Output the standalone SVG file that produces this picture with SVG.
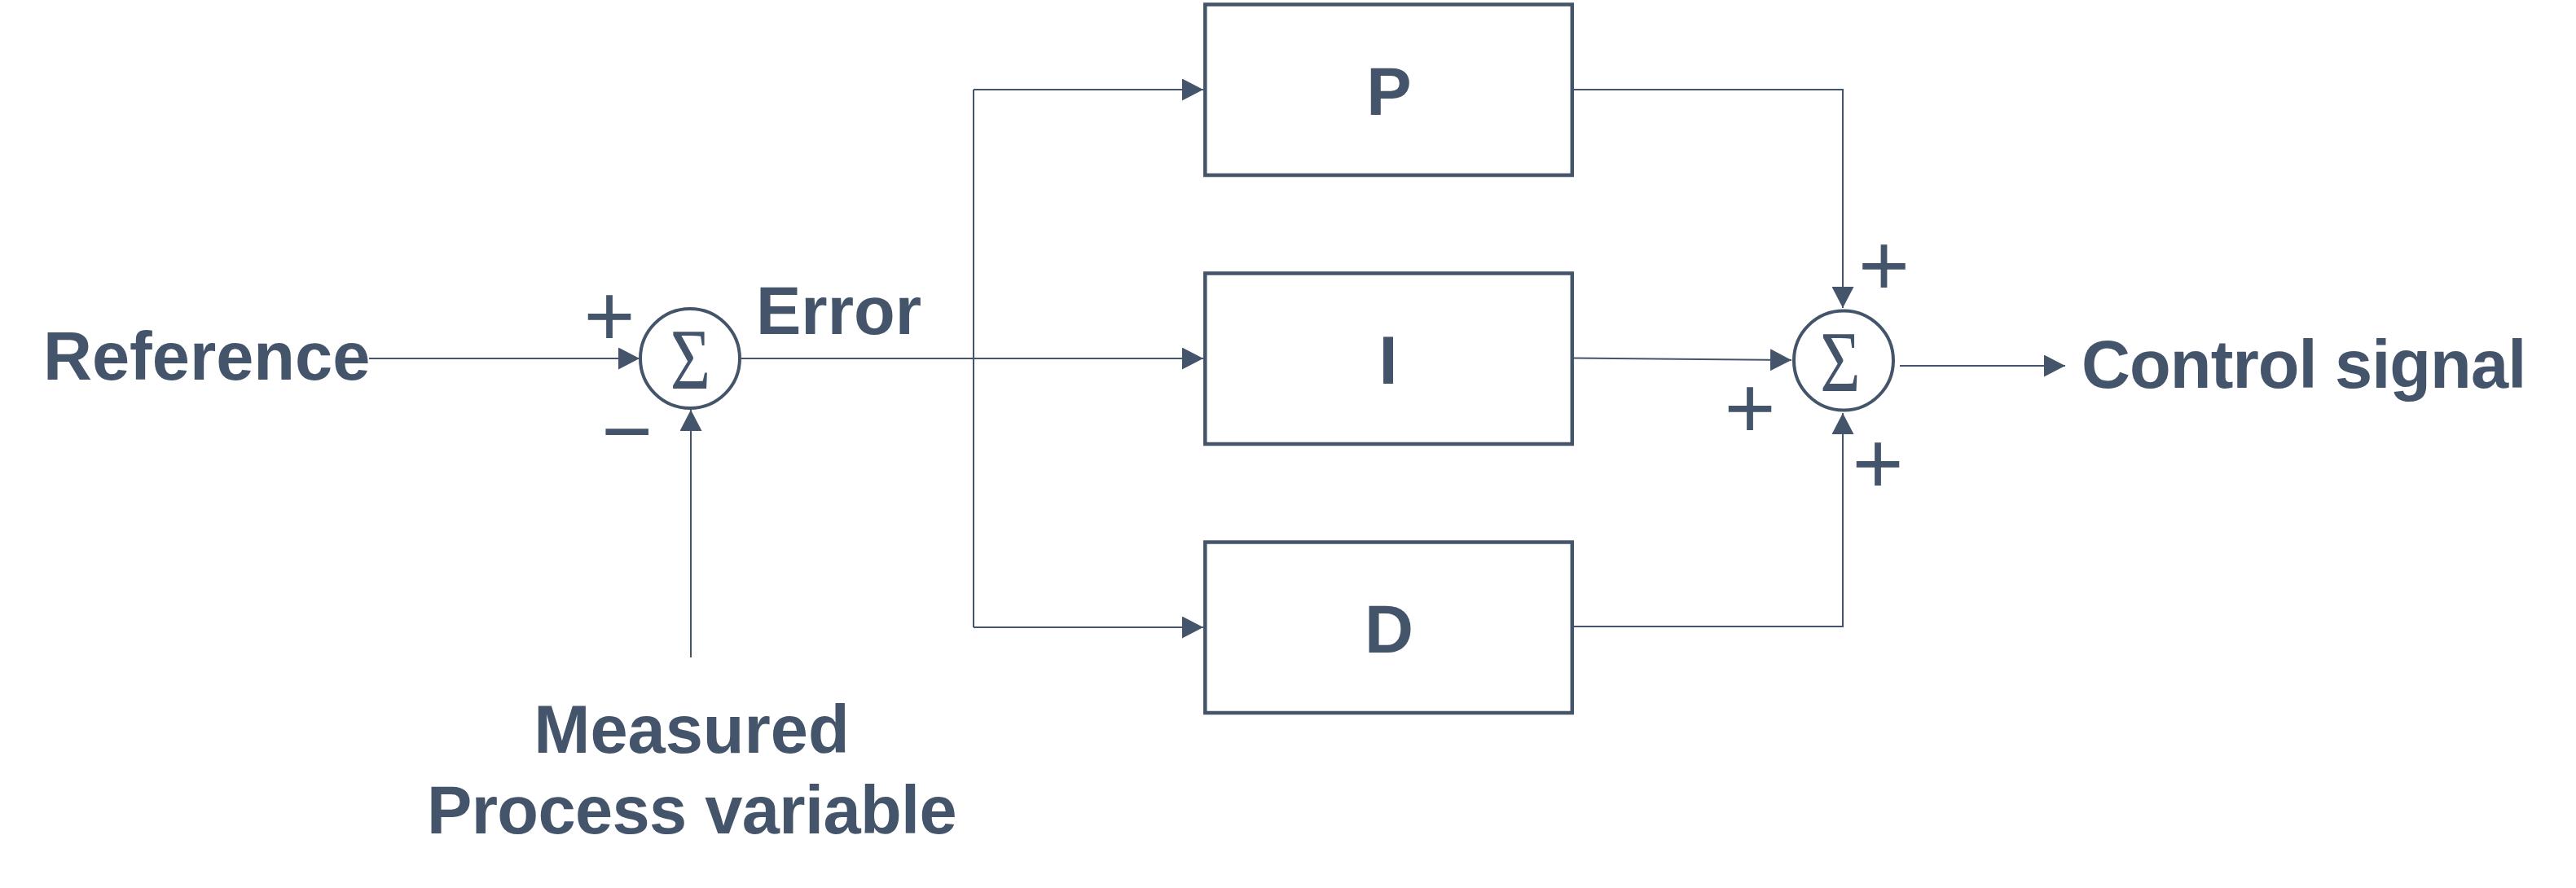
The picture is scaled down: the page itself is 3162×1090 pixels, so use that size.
<svg xmlns="http://www.w3.org/2000/svg" width="3162" height="1090" viewBox="0 0 3162 1090">
  <style>
    .lbl { font-family: "Liberation Sans", Arial, Helvetica, sans-serif; font-weight: bold; font-size: 83px; fill: #44546a; }
    .sign { font-family: "Liberation Sans", Arial, sans-serif; font-weight: normal; font-size: 108px; fill: #44546a; text-anchor: middle; }
    .sig { font-family: "Liberation Serif", "Times New Roman", serif; font-size: 106px; fill: #44546a; text-anchor: middle; }
    .box { fill: #ffffff; stroke: #44546a; stroke-width: 4.5; }
    .sum { fill: #ffffff; stroke: #44546a; stroke-width: 4; }
    .wire { fill: none; stroke: #44546a; stroke-width: 2; marker-end: url(#arrow); }
    .plain { fill: none; stroke: #44546a; stroke-width: 2; }
  </style>
  <defs>
    <marker id="arrow" markerUnits="userSpaceOnUse" viewBox="0 0 26 27" refX="26" refY="13.5" markerWidth="26" markerHeight="27" orient="auto">
      <path d="M0,0 L26,13.5 L0,27 Z" fill="#44546a"/>
    </marker>
  </defs>
  <rect width="3162" height="1090" fill="#ffffff"/>

  <g id="connectors">
    <path class="wire" d="M453,440 L785,440"/>
    <path class="wire" d="M848,807 L848,503"/>
    <path class="wire" d="M909,440 L1477,440"/>
    <path class="plain" d="M1195,110 L1195,770"/>
    <path class="wire" d="M1195,110 L1477,110"/>
    <path class="wire" d="M1195,770 L1477,770"/>
    <path class="wire" d="M1931,110 L2262,110 L2262,378"/>
    <path class="wire" d="M1931,439.5 L2199,442"/>
    <path class="wire" d="M1931,769 L2262,769 L2262,507"/>
    <path class="wire" d="M2332,449 L2535,449"/>
  </g>

  <g id="reference">
    <text class="lbl" x="53" y="466">Reference</text>
  </g>
  <g id="sum1">
    <circle class="sum" cx="847" cy="440" r="61"/>
    <text class="sig" transform="translate(847.5,477) scale(0.8,1)">Σ</text>
    <text class="sign" x="748" y="424">+</text>
    <text class="sign" x="769.5" y="565.5">−</text>
  </g>
  <g id="error">
    <text class="lbl" x="928" y="410">Error</text>
  </g>
  <g id="measured">
    <text class="lbl" x="849" y="924" text-anchor="middle">Measured</text>
    <text class="lbl" x="849" y="1023" text-anchor="middle" letter-spacing="-0.6">Process variable</text>
  </g>
  <g id="P">
    <rect class="box" x="1479.3" y="5.5" width="450.5" height="209.5"/>
    <text class="lbl" x="1705" y="141" text-anchor="middle">P</text>
  </g>
  <g id="I">
    <rect class="box" x="1479.3" y="335.5" width="450.5" height="209.5"/>
    <text class="lbl" x="1704" y="471" text-anchor="middle">I</text>
  </g>
  <g id="D">
    <rect class="box" x="1479.3" y="665.5" width="450.5" height="209.5"/>
    <text class="lbl" x="1705" y="801" text-anchor="middle">D</text>
  </g>
  <g id="sum2">
    <circle class="sum" cx="2263" cy="442.5" r="61"/>
    <text class="sig" transform="translate(2259,480) scale(0.8,1)">Σ</text>
    <text class="sign" x="2312.5" y="361.5">+</text>
    <text class="sign" x="2148" y="537">+</text>
    <text class="sign" x="2305" y="605">+</text>
  </g>
  <g id="control">
    <text class="lbl" x="2555" y="476" letter-spacing="-0.9">Control signal</text>
  </g>
</svg>
